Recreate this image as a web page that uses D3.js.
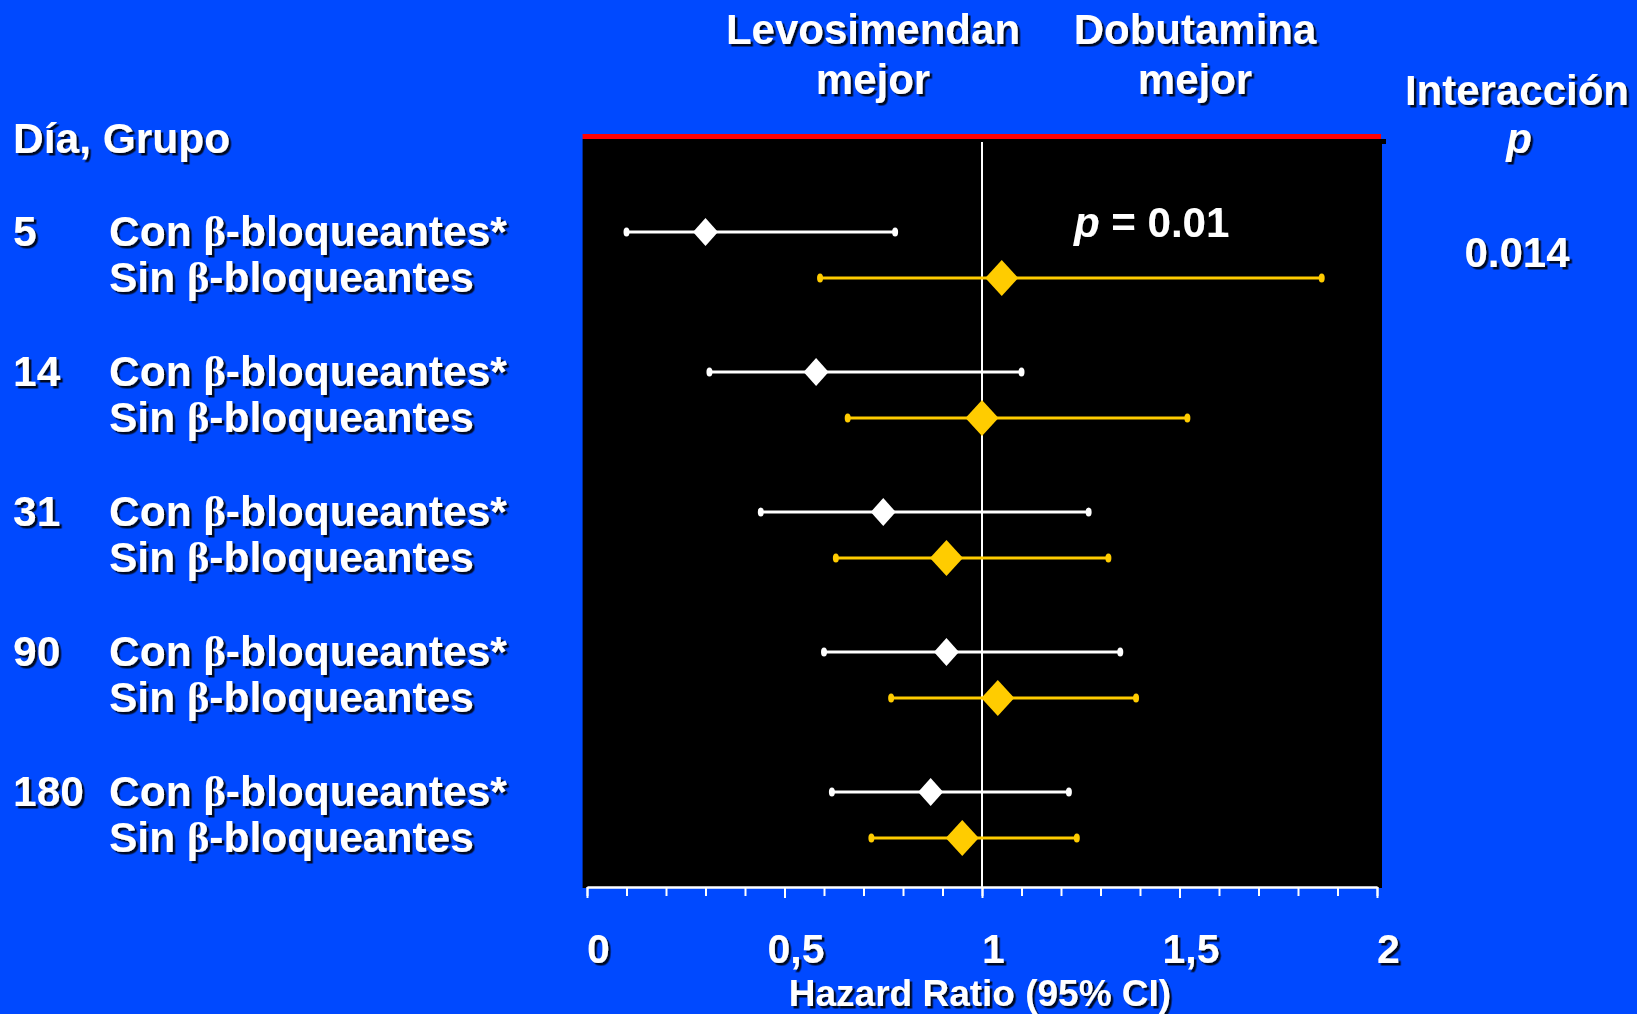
<!DOCTYPE html>
<html>
<head>
<meta charset="utf-8">
<script src="https://cdn.jsdelivr.net/npm/d3@7"></script>
<style>
  html, body { margin: 0; padding: 0; background: #0049FF; }
  svg { display: block; }
  text { font-family: "Liberation Sans", Arial, sans-serif; font-weight: bold; fill: #fff; }
</style>
</head>
<body>
<svg id="chart" width="1637" height="1014"></svg>
<script>
// Follow-up days and subgroup labels
const days = ["5", "14", "31", "90", "180"];
const groupLabels = ["Con ", "Sin "];

// Hazard ratios (levosimendan vs dobutamine) with 95% CI, patients on beta-blockers
const conPoint = [0.30, 0.58, 0.75, 0.91, 0.87];
const conLower = [0.10, 0.31, 0.44, 0.60, 0.62];
const conUpper = [0.78, 1.10, 1.27, 1.35, 1.22];

// Patients without beta-blockers
const sinPoint = [1.05, 1.00, 0.91, 1.04, 0.95];
const sinLower = [0.59, 0.66, 0.63, 0.77, 0.72];
const sinUpper = [1.86, 1.52, 1.32, 1.39, 1.24];

// Axis ticks
const majorTicks = [0, 0.5, 1, 1.5, 2];
const minorTicks = d3.range(0, 21).map(i => i / 10);

const trendP = "0.01";
const interactionP = "0.014";

const svg = d3.select("#chart");
const W = 1637, H = 1014;

svg.append("rect").attr("width", W).attr("height", H).attr("fill", "#0049FF");

const defs = svg.append("defs");
const f = defs.append("filter").attr("id", "shadow")
  .attr("x", "-10%").attr("y", "-20%").attr("width", "130%").attr("height", "150%");
f.append("feDropShadow").attr("dx", 2.5).attr("dy", 2.5)
  .attr("stdDeviation", 0.6).attr("flood-color", "#000").attr("flood-opacity", 0.85);

const panel = { left: 582.6, right: 1382, top: 139, bottom: 888 };

const x = d3.scaleLinear().domain([0, 2]).range([587, 1377]);
const y = d3.scalePoint().domain(days).range([232, 792]);
const subOffset = 46;

// Plot panel with red top rule
svg.append("rect").attr("x", panel.right - 1).attr("y", panel.top).attr("width", 5).attr("height", 5).attr("fill", "#000");
svg.append("rect").attr("x", panel.left).attr("y", panel.top)
  .attr("width", panel.right - panel.left).attr("height", panel.bottom - panel.top).attr("fill", "#000");
svg.append("rect").attr("x", panel.left).attr("y", panel.top - 5)
  .attr("width", panel.right - 1 - panel.left).attr("height", 5).attr("fill", "#FF0000");

// No-effect reference line at HR = 1
svg.append("line").attr("x1", x(1)).attr("x2", x(1))
  .attr("y1", panel.top + 3).attr("y2", panel.bottom)
  .attr("stroke", "#fff").attr("stroke-width", 2);

// Axis
const fmt = d3.formatLocale({ decimal: ",", thousands: ".", grouping: [3], currency: ["", ""] }).format("~g");
const axisY = 887;
const gMinor = svg.append("g").attr("transform", `translate(0,${axisY})`)
  .call(d3.axisBottom(x).tickValues(minorTicks).tickSize(9).tickSizeOuter(0).tickFormat(""));
const gMajor = svg.append("g").attr("transform", `translate(0,${axisY})`)
  .call(d3.axisBottom(x).tickValues(majorTicks).tickSize(11).tickSizeOuter(0).tickFormat(fmt));
[gMinor, gMajor].forEach(g => {
  g.select(".domain").attr("stroke", "#fff").attr("stroke-width", 2);
  g.selectAll(".tick line").attr("stroke", "#fff").attr("stroke-width", 2);
});
gMajor.selectAll(".tick text")
  .attr("y", 963 - axisY).attr("dy", 0).attr("x", 11)
  .attr("filter", "url(#shadow)")
  .style("font-family", "'Liberation Sans', Arial, sans-serif")
  .style("font-weight", "bold").style("font-size", "41px").attr("fill", "#fff");

svg.append("text").attr("x", 980).attr("y", 1006).attr("text-anchor", "middle")
  .style("font-size", "37px").attr("filter", "url(#shadow)")
  .text("Hazard Ratio (95% CI)");

// Data rows
const rows = [];
days.forEach((d, i) => {
  rows.push({ day: d, grp: 0, pt: conPoint[i], lo: conLower[i], hi: conUpper[i], y: y(d) });
  rows.push({ day: d, grp: 1, pt: sinPoint[i], lo: sinLower[i], hi: sinUpper[i], y: y(d) + subOffset });
});
const colors = ["#FFFFFF", "#FFCC00"];
const diamondSize = [[12.5, 14], [16.5, 18]];

const gRows = svg.append("g");
const row = gRows.selectAll("g").data(rows).join("g");
row.append("line")
  .attr("x1", r => x(r.lo)).attr("x2", r => x(r.hi))
  .attr("y1", r => r.y).attr("y2", r => r.y)
  .attr("stroke", r => colors[r.grp]).attr("stroke-width", 3);
row.append("ellipse").attr("cx", r => x(r.lo)).attr("cy", r => r.y).attr("rx", 3).attr("ry", 4.5)
  .attr("fill", r => colors[r.grp]);
row.append("ellipse").attr("cx", r => x(r.hi)).attr("cy", r => r.y).attr("rx", 3).attr("ry", 4.5)
  .attr("fill", r => colors[r.grp]);
row.append("path")
  .attr("d", r => {
    const [hw, hh] = diamondSize[r.grp];
    const cx = x(r.pt), cy = r.y;
    return `M${cx},${cy - hh}L${cx + hw},${cy}L${cx},${cy + hh}L${cx - hw},${cy}Z`;
  })
  .attr("fill", r => colors[r.grp]);

// Row labels
const lab = svg.append("g").attr("filter", "url(#shadow)").style("font-size", "42.5px");
lab.append("text").attr("x", 13).attr("y", 153).text("Día, Grupo");
rows.forEach(r => {
  const base = r.y + 14;
  if (r.grp === 0) lab.append("text").attr("x", 13).attr("y", base).text(r.day);
  const t = lab.append("text").attr("x", 109).attr("y", base);
  t.append("tspan").text(groupLabels[r.grp]);
  t.append("tspan").style("font-family", "'Liberation Serif', 'Times New Roman', serif").text("β");
  t.append("tspan").text(r.grp === 0 ? "-bloqueantes*" : "-bloqueantes");
});

// Header labels
const hdr = svg.append("g").attr("filter", "url(#shadow)").style("font-size", "42px").attr("text-anchor", "middle");
hdr.append("text").attr("x", 873).attr("y", 44).text("Levosimendan");
hdr.append("text").attr("x", 873).attr("y", 94).text("mejor");
hdr.append("text").attr("x", 1195).attr("y", 44).text("Dobutamina");
hdr.append("text").attr("x", 1195).attr("y", 94).text("mejor");
hdr.append("text").attr("x", 1517).attr("y", 105).text("Interacción");
hdr.append("text").attr("x", 1519).attr("y", 153).style("font-style", "italic").text("p");
hdr.append("text").attr("x", 1517).attr("y", 267).text(interactionP);

// Trend p-value inside panel
const pt = svg.append("text").attr("x", 1074).attr("y", 237).style("font-size", "42px").attr("filter", "url(#shadow)");
pt.append("tspan").style("font-style", "italic").text("p");
pt.append("tspan").text(" = " + trendP);
</script>
</body>
</html>
